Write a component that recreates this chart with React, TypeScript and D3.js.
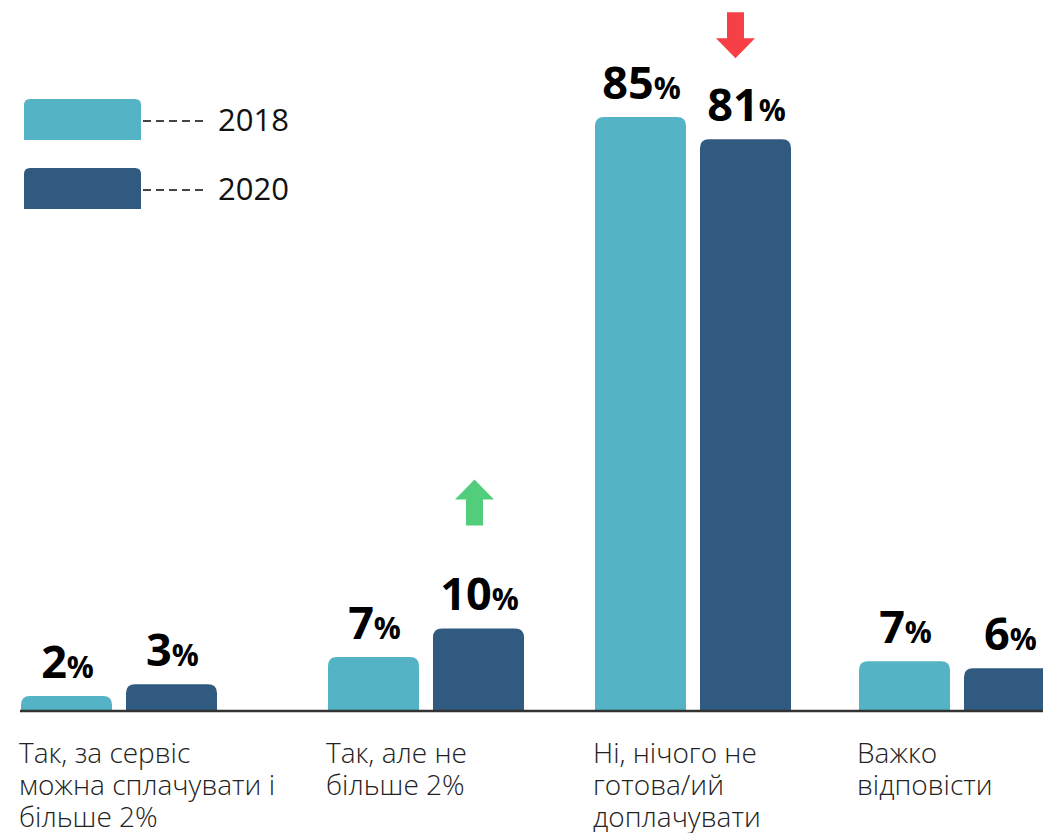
import React from "react";
import * as d3 from "d3";

const categories = [
  ["Так, за сервіс", "можна сплачувати і", "більше 2%"],
  ["Так, але не", "більше 2%"],
  ["Ні, нічого не", "готова/ий", "доплачувати"],
  ["Важко", "відповісти"],
];
const categoryKeys = ["yes_more", "yes_max2", "no", "hard"];
const seriesNames = ["2018", "2020"];
const values2018 = [2.0, 7.6, 85, 7.0];
const values2020 = [3.7, 11.7, 81.8, 6.0];
const labels2018 = [2, 7, 85, 7];
const labels2020 = [3, 10, 81, 6];
const arrows = [
  { cat: "yes_max2", series: "2020", dir: "up" },
  { cat: "no", series: "2020", dir: "down" },
];

const colors: Record<string, string> = { "2018": "#54b3c4", "2020": "#305a7f" };
const W = 1043;
const H = 833;
const baseY = 710;

function topRounded(x: number, y: number, w: number, h: number, r: number) {
  const rr = Math.min(r, h, w / 2);
  return `M${x},${y + h}V${y + rr}Q${x},${y} ${x + rr},${y}H${x + w - rr}Q${x + w},${y} ${x + w},${y + rr}V${y + h}Z`;
}

function arrowPath(cx: number, tipY: number, dir: "up" | "down") {
  const shaftW = 17, headW = 39, headL = 20, len = 46;
  const s = dir === "up" ? 1 : -1;
  const hb = tipY + s * headL;
  const end = tipY + s * len;
  return `M${cx},${tipY}L${cx + headW / 2},${hb}H${cx + shaftW / 2}V${end}H${cx - shaftW / 2}V${hb}H${cx - headW / 2}Z`;
}

export default function App() {
  const x0 = d3.scaleOrdinal<string, number>().domain(categoryKeys).range([21, 328, 595, 859]);
  const x1 = d3.scaleBand<string>().domain(seriesNames).range([0, 196]).paddingInner(0.133);
  const y = d3.scaleLinear().domain([0, 85]).range([baseY, 117]);

  const data = categoryKeys.flatMap((k, i) => [
    { cat: k, series: "2018", v: values2018[i], label: labels2018[i] },
    { cat: k, series: "2020", v: values2020[i], label: labels2020[i] },
  ]);

  const font = "'Open Sans', 'Noto Sans', sans-serif";

  return (
    <svg width={W} height={H} style={{ position: "absolute", left: 0, top: 0, display: "block", background: "#fff" }} fontFamily={font}>
      {data.map((d, i) => {
        const bx = x0(d.cat) + (x1(d.series) as number);
        const by = y(d.v);
        const bw = x1.bandwidth();
        return (
          <g key={i}>
            <path d={topRounded(bx, by, bw, baseY - by, 9)} fill={colors[d.series]} />
            <text x={bx + bw / 2 + 1} y={by - 18} textAnchor="middle" fontWeight={700} fill="#000">
              <tspan fontSize={45}>{d.label}</tspan>
              <tspan fontSize={30}>%</tspan>
            </text>
          </g>
        );
      })}
      <line x1={20} x2={W} y1={baseY + 1} y2={baseY + 1} stroke="#333" strokeWidth={2.5} />
      {categoryKeys.map((k, i) => (
        <text key={k} x={x0(k) - 2} y={763} fontSize={28} fontWeight={300} fill="#222">
          {categories[i].map((line, j) => (
            <tspan key={j} x={x0(k) - 2} y={763 + j * 32}>{line}</tspan>
          ))}
        </text>
      ))}
      {arrows.map((a, i) => {
        const bx = x0(a.cat) + (x1(a.series) as number) + x1.bandwidth() / 2;
        const val = a.series === "2018" ? values2018[categoryKeys.indexOf(a.cat)] : values2020[categoryKeys.indexOf(a.cat)];
        const by = y(val);
        if (a.dir === "up") {
          return <path key={i} d={arrowPath(bx - 4, by - 149, "up")} fill="#52cd7c" />;
        }
        return <path key={i} d={arrowPath(bx - 10, by - 81, "down")} fill="#f64045" />;
      })}
      {seriesNames.map((s, i) => {
        const ly = 99 + i * 69;
        return (
          <g key={s}>
            <path d={topRounded(24, ly, 117, 41, 6)} fill={colors[s]} />
            <line x1={143} x2={207} y1={ly + 22} y2={ly + 22} stroke="#444" strokeWidth={2} strokeDasharray="8,5" />
            <text x={218} y={ly + 32} fontSize={31} fill="#111">{s}</text>
          </g>
        );
      })}
    </svg>
  );
}
